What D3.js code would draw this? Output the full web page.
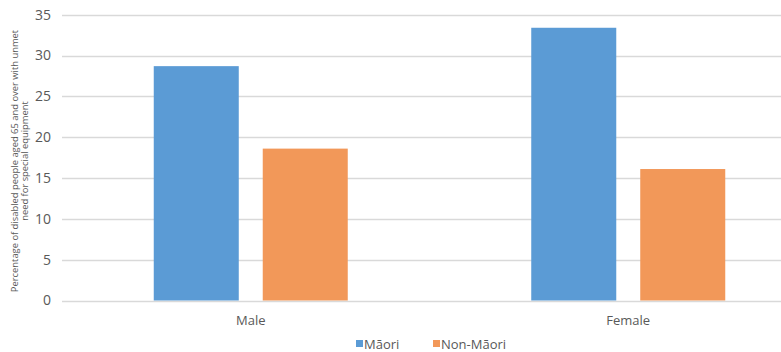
<!DOCTYPE html>
<html>
<head>
<meta charset="utf-8">
<script src="https://cdn.jsdelivr.net/npm/d3@7"></script>
<style>
  body { margin: 0; background: #fff; }
  text { font-family: "Open Sans", "Noto Sans", sans-serif; fill: #595959; }
</style>
</head>
<body>
<svg id="chart" width="781" height="352"></svg>
<script>
var categories = ["Male", "Female"];
var series = ["Māori", "Non-Māori"];
var maori = [28.7, 33.4];
var nonMaori = [18.6, 16.1];
var yTicks = [0, 5, 10, 15, 20, 25, 30, 35];
var colours = ["#5b9bd5", "#f29859"];

var svg = d3.select("#chart");

var x = d3.scaleBand()
  .domain(categories)
  .range([62, 817]);

var inner = d3.scaleBand()
  .domain(series)
  .range([91.75, 285.75])
  .paddingInner(0.22);

var y = d3.scaleLinear()
  .domain([0, 35])
  .range([300.5, 14.7]);

// gridlines
svg.append("g")
  .selectAll("line")
  .data(yTicks)
  .enter().append("line")
    .attr("x1", 62)
    .attr("x2", 781)
    .attr("y1", function (d) { return Math.round(y(d)) + 0.5; })
    .attr("y2", function (d) { return Math.round(y(d)) + 0.5; })
    .style("stroke", "#d9d9d9")
    .style("stroke-width", 1.3);

// y tick labels
svg.append("g")
  .selectAll("text")
  .data(yTicks)
  .enter().append("text")
    .attr("x", 51)
    .attr("y", function (d) { return y(d); })
    .attr("dy", "0.35em")
    .attr("text-anchor", "end")
    .style("font-size", "14px")
    .text(function (d) { return d; });

// bars
var values = [maori, nonMaori];
series.forEach(function (s, i) {
  svg.append("g")
    .selectAll("rect")
    .data(categories)
    .enter().append("rect")
      .attr("x", function (c) { return x(c) + inner(s); })
      .attr("width", inner.bandwidth())
      .attr("y", function (c, j) { return y(values[i][j]); })
      .attr("height", function (c, j) { return y(0) - y(values[i][j]); })
      .style("fill", colours[i]);
});

// category labels
svg.append("g")
  .selectAll("text")
  .data(categories)
  .enter().append("text")
    .attr("x", function (c) { return x(c) + x.bandwidth() / 2; })
    .attr("y", 325)
    .attr("text-anchor", "middle")
    .style("font-size", "13px")
    .text(function (c) { return c; });

// y axis title
var title = svg.append("text")
  .attr("transform", "translate(18,161) rotate(-90)")
  .attr("text-anchor", "middle")
  .style("font-size", "9.4px");
title.append("tspan").attr("x", 0).attr("dy", 0)
  .text("Percentage of disabled people aged 65 and over with unmet");
title.append("tspan").attr("x", 0).attr("dy", "1.1em")
  .text("need for special equipment");

// legend
var legendX = [356, 433];
var legend = svg.append("g")
  .selectAll("g")
  .data(series)
  .enter().append("g")
    .attr("transform", function (d, i) { return "translate(" + legendX[i] + ",344)"; });

legend.append("rect")
  .attr("x", 0)
  .attr("y", -4)
  .attr("width", 7)
  .attr("height", 7)
  .style("fill", function (d, i) { return colours[i]; });

legend.append("text")
  .attr("x", 8)
  .attr("y", 0)
  .attr("dy", "0.35em")
  .style("font-size", "13px")
  .text(function (d) { return d; });
</script>
</body>
</html>
